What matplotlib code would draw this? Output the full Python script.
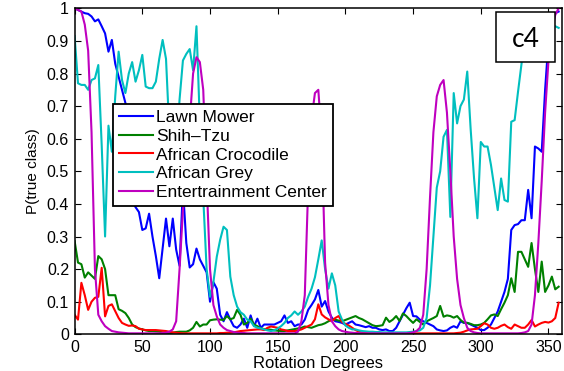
"""
P(true class) vs rotation angle for five ImageNet classes (panel c4).
"""

import numpy as np
import matplotlib
matplotlib.use("Agg")
import matplotlib.pyplot as plt
from matplotlib.patches import Rectangle

plt.rcParams["font.family"] = ["Liberation Sans", "DejaVu Sans"]

# rotation angle grid (degrees)
angles = np.arange(0, 360, 2.5)

lawn_mower = [
    1.0, 0.995, 0.99, 0.985, 0.983, 0.975, 0.96, 0.966, 0.945, 0.923, 0.867, 0.903,
    0.83, 0.79, 0.75, 0.71, 0.55, 0.41, 0.39, 0.375, 0.32, 0.325, 0.37, 0.30,
    0.24, 0.172, 0.265, 0.355, 0.27, 0.355, 0.26, 0.21, 0.45, 0.28, 0.205, 0.215,
    0.263, 0.23, 0.21, 0.19, 0.10, 0.16, 0.14, 0.06, 0.04, 0.068, 0.045, 0.025,
    0.02, 0.03, 0.048, 0.02, 0.058, 0.025, 0.048, 0.02, 0.03, 0.03, 0.03, 0.03,
    0.035, 0.04, 0.058, 0.035, 0.04, 0.025, 0.03, 0.03, 0.045, 0.075, 0.09, 0.107,
    0.136, 0.085, 0.102, 0.07, 0.051, 0.04, 0.038, 0.035, 0.03, 0.035, 0.04, 0.03,
    0.028, 0.025, 0.022, 0.025, 0.02, 0.02, 0.015, 0.013, 0.015, 0.01, 0.01, 0.02,
    0.04, 0.06, 0.08, 0.097, 0.056, 0.055, 0.045, 0.04, 0.035, 0.03, 0.025, 0.015,
    0.012, 0.01, 0.012, 0.02, 0.025, 0.02, 0.04, 0.035, 0.035, 0.03, 0.025, 0.02,
    0.013, 0.013, 0.02, 0.03, 0.05, 0.07, 0.10, 0.13, 0.17, 0.32, 0.335, 0.338,
    0.35, 0.35, 0.443, 0.356, 0.576, 0.57, 0.56, 0.75, 0.9, 0.96, 0.985, 0.99,
]

shih_tzu = [
    0.286, 0.22, 0.215, 0.174, 0.19, 0.18, 0.17, 0.24, 0.23, 0.2, 0.12, 0.12,
    0.12, 0.077, 0.072, 0.065, 0.05, 0.03, 0.022, 0.018, 0.015, 0.012, 0.01, 0.01,
    0.009, 0.008, 0.006, 0.004, 0.003, 0.005, 0.007, 0.008, 0.008, 0.008, 0.012, 0.02,
    0.038, 0.024, 0.03, 0.03, 0.043, 0.045, 0.046, 0.045, 0.044, 0.056, 0.046, 0.05,
    0.075, 0.06, 0.03, 0.035, 0.048, 0.03, 0.025, 0.018, 0.016, 0.015, 0.014, 0.012,
    0.011, 0.01, 0.01, 0.012, 0.014, 0.016, 0.018, 0.02, 0.024, 0.022, 0.02, 0.024,
    0.028, 0.03, 0.034, 0.04, 0.046, 0.045, 0.042, 0.04, 0.044, 0.048, 0.052, 0.056,
    0.05, 0.046, 0.04, 0.034, 0.028, 0.025, 0.026, 0.028, 0.051, 0.038, 0.045, 0.056,
    0.041, 0.064, 0.056, 0.045, 0.035, 0.046, 0.038, 0.03, 0.04, 0.045, 0.05, 0.056,
    0.087, 0.054, 0.058, 0.056, 0.051, 0.056, 0.044, 0.036, 0.035, 0.032, 0.028, 0.028,
    0.03, 0.035, 0.046, 0.058, 0.061, 0.056, 0.077, 0.097, 0.12, 0.172, 0.13, 0.253,
    0.253, 0.23, 0.207, 0.28, 0.2, 0.13, 0.223, 0.13, 0.15, 0.177, 0.138, 0.146,
]

african_crocodile = [
    0.06, 0.045, 0.158, 0.12, 0.075, 0.1, 0.112, 0.115, 0.204, 0.055, 0.087, 0.092,
    0.071, 0.05, 0.035, 0.03, 0.026, 0.027, 0.025, 0.017, 0.015, 0.013, 0.013, 0.013,
    0.013, 0.012, 0.011, 0.01, 0.008, 0.006, 0.005, 0.004, 0.003, 0.003, 0.003, 0.003,
    0.003, 0.003, 0.003, 0.003, 0.003, 0.003, 0.003, 0.004, 0.004, 0.005, 0.005, 0.006,
    0.008, 0.01, 0.011, 0.012, 0.013, 0.014, 0.015, 0.015, 0.013, 0.02, 0.024, 0.022,
    0.02, 0.015, 0.013, 0.01, 0.01, 0.01, 0.012, 0.015, 0.02, 0.025, 0.03, 0.046,
    0.092, 0.061, 0.052, 0.046, 0.04, 0.05, 0.056, 0.038, 0.032, 0.027, 0.02, 0.013,
    0.008, 0.005, 0.004, 0.003, 0.003, 0.003, 0.003, 0.003, 0.003, 0.003, 0.003, 0.003,
    0.003, 0.003, 0.003, 0.003, 0.003, 0.003, 0.003, 0.003, 0.003, 0.003, 0.003, 0.003,
    0.003, 0.003, 0.003, 0.003, 0.003, 0.004, 0.005, 0.008, 0.012, 0.015, 0.016, 0.017,
    0.025, 0.034, 0.03, 0.02, 0.017, 0.02, 0.026, 0.03, 0.022, 0.017, 0.03, 0.025,
    0.02, 0.02, 0.03, 0.044, 0.024, 0.03, 0.035, 0.038, 0.036, 0.04, 0.05, 0.097,
]

african_grey = [
    0.915, 0.77, 0.765, 0.765, 0.75, 0.78, 0.785, 0.826, 0.58, 0.3, 0.64, 0.56,
    0.73, 0.867, 0.78, 0.74, 0.8, 0.835, 0.775, 0.81, 0.857, 0.76, 0.755, 0.755,
    0.775, 0.845, 0.903, 0.845, 0.62, 0.5, 0.55, 0.72, 0.84, 0.86, 0.875, 0.81,
    0.945, 0.65, 0.42, 0.2, 0.115, 0.16, 0.238, 0.29, 0.33, 0.32, 0.177, 0.12,
    0.085, 0.068, 0.06, 0.045, 0.04, 0.025, 0.02, 0.018, 0.015, 0.012, 0.01, 0.012,
    0.018, 0.025, 0.035, 0.05, 0.058, 0.07, 0.06, 0.07, 0.085, 0.115, 0.14, 0.175,
    0.23, 0.288, 0.2, 0.14, 0.187, 0.15, 0.07, 0.045, 0.027, 0.02, 0.015, 0.015,
    0.012, 0.01, 0.009, 0.008, 0.008, 0.007, 0.007, 0.006, 0.006, 0.006, 0.006, 0.006,
    0.006, 0.006, 0.006, 0.007, 0.008, 0.01, 0.012, 0.02, 0.05, 0.15, 0.3, 0.45,
    0.5, 0.606, 0.627, 0.36, 0.74, 0.647, 0.7, 0.72, 0.806, 0.63, 0.48, 0.356,
    0.59, 0.576, 0.576, 0.52, 0.45, 0.381, 0.478, 0.412, 0.407, 0.652, 0.657, 0.744,
    0.826, 0.91, 0.93, 0.95, 0.95, 0.96, 0.95, 0.95, 0.94, 0.94, 0.945, 0.94,
]

entertainment_center = [
    1.0, 0.995, 0.99, 0.95, 0.87, 0.62, 0.2, 0.06, 0.04, 0.025, 0.017, 0.01,
    0.008, 0.006, 0.005, 0.004, 0.003, 0.003, 0.003, 0.003, 0.003, 0.003, 0.003, 0.003,
    0.003, 0.003, 0.004, 0.005, 0.008, 0.015, 0.04, 0.2, 0.38, 0.5, 0.65, 0.8,
    0.85, 0.835, 0.75, 0.47, 0.2, 0.09, 0.055, 0.03, 0.02, 0.013, 0.01, 0.007,
    0.005, 0.004, 0.004, 0.003, 0.003, 0.003, 0.003, 0.003, 0.003, 0.003, 0.003, 0.003,
    0.003, 0.003, 0.003, 0.003, 0.003, 0.003, 0.008, 0.04, 0.12, 0.45, 0.66, 0.74,
    0.75, 0.6, 0.22, 0.09, 0.04, 0.025, 0.015, 0.01, 0.008, 0.006, 0.005, 0.004,
    0.004, 0.003, 0.003, 0.003, 0.003, 0.003, 0.003, 0.003, 0.003, 0.003, 0.003, 0.003,
    0.003, 0.003, 0.003, 0.004, 0.006, 0.01, 0.02, 0.06, 0.2, 0.42, 0.62, 0.73,
    0.765, 0.78, 0.68, 0.5, 0.3, 0.17, 0.09, 0.05, 0.02, 0.01, 0.006, 0.004,
    0.003, 0.003, 0.003, 0.003, 0.003, 0.003, 0.003, 0.003, 0.003, 0.003, 0.003, 0.003,
    0.004, 0.006, 0.01, 0.03, 0.12, 0.28, 0.47, 0.68, 0.84, 0.93, 0.98, 1.0,
]

series = [
    ("Lawn Mower", lawn_mower, (0, 0, 1)),
    ("Shih\u2013Tzu", shih_tzu, (0, 0.5, 0)),
    ("African Crocodile", african_crocodile, (1, 0, 0)),
    ("African Grey", african_grey, (0, 0.75, 0.75)),
    ("Entertrainment Center", entertainment_center, (0.75, 0, 0.75)),
]

x_ticks = [0, 50, 100, 150, 200, 250, 300, 350]
y_ticks = [0, 0.1, 0.2, 0.3, 0.4, 0.5, 0.6, 0.7, 0.8, 0.9, 1]
y_tick_labels = ["0", "0.1", "0.2", "0.3", "0.4", "0.5", "0.6", "0.7", "0.8", "0.9", "1"]

fig = plt.figure(figsize=(5.64, 3.71), dpi=100)
ax = fig.add_axes([0.1323, 0.0989, 0.8642, 0.8787])

for label, vals, color in series:
    ax.plot(angles, vals, color=color, lw=1.5, label=label)

ax.set_xlim(0, 360)
ax.set_ylim(0, 1)
ax.set_xticks(x_ticks)
ax.set_yticks(y_ticks)
ax.set_yticklabels(y_tick_labels)
ax.tick_params(direction="in", length=4, width=0.8, labelsize=11.5,
               top=True, right=True, colors="black")
ax.tick_params(axis="x", pad=4)
ax.tick_params(axis="y", pad=4)
for sp in ax.spines.values():
    sp.set_linewidth(1.1)

ax.set_xlabel("Rotation Degrees", fontsize=12)
ax.set_ylabel("P(true class)", fontsize=11)
ax.xaxis.set_label_coords(0.5, -0.066)
ax.yaxis.set_label_coords(-0.072, 0.5)

leg = ax.legend(loc="upper left", bbox_to_anchor=(0.0788, 0.7064),
                borderaxespad=0, fontsize=12.5, frameon=True, fancybox=False,
                framealpha=1, edgecolor="black", handlelength=1.95,
                handletextpad=0.2, labelspacing=0.2, borderpad=0.35)
leg.get_frame().set_linewidth(1.3)

ax.add_patch(Rectangle((0.8646, 0.8353), 0.121, 0.1534, transform=ax.transAxes,
                       facecolor="white", edgecolor="black", lw=1.1, zorder=5))
ax.text(0.925, 0.905, "c4", transform=ax.transAxes, ha="center", va="center",
        fontsize=19, family=["Lato", "DejaVu Sans"], zorder=6)

fig.savefig("out.png", dpi=100)
